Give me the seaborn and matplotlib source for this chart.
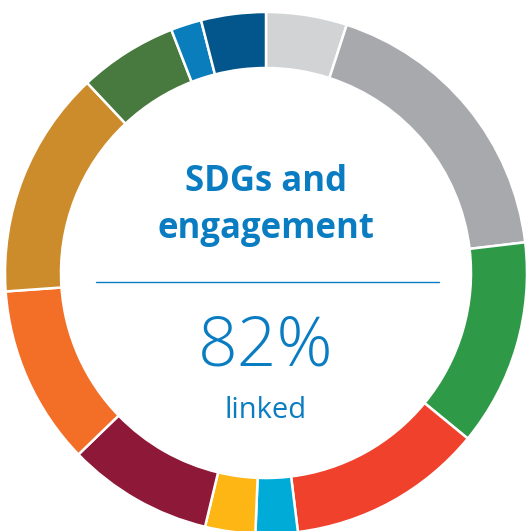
import matplotlib
matplotlib.use("Agg")
import matplotlib.pyplot as plt
import seaborn as sns

# segment shares (% of ring), clockwise from 12 o'clock
segments = ["light gray", "gray", "green", "red", "cyan", "yellow",
            "maroon", "orange", "gold", "dark green", "blue", "dark blue"]
shares = [5.0, 18.1, 12.8, 12.1, 2.6, 3.1, 9.0, 11.1, 14.1, 6.1, 1.9, 4.0]
colors = ["#d1d3d4", "#a7a9ac", "#2e9a48", "#ef412c", "#00acd7", "#fdb614",
          "#8e1838", "#f36e27", "#cd8c2c", "#48793f", "#0a7dbd", "#02568b"]

title_lines = ["SDGs and", "engagement"]
big_value = "82%"
sub_label = "linked"

sns.set_theme(style="white")
plt.rcParams["font.family"] = ["Open Sans", "DejaVu Sans"]

W, H = 526, 531
fig = plt.figure(figsize=(W / 100, H / 100), dpi=100)
ax = fig.add_axes([0, 0, 1, 1])
ax.set_xlim(0, W)
ax.set_ylim(H, 0)
ax.set_aspect("equal")
ax.axis("off")

cx, cy, r_out, ring = 266, 273, 261, 56

# y axis is inverted, so counterclock=True draws clockwise on screen
ax.pie(shares, colors=colors, startangle=-90, counterclock=True,
       center=(cx, cy), radius=r_out, frame=True,
       wedgeprops=dict(width=ring, edgecolor="white", linewidth=1.8))
ax.set_xlim(0, W)
ax.set_ylim(H, 0)
ax.axis("off")

blue = "#0a7cc2"
ax.text(cx, 182, title_lines[0], ha="center", va="center", color=blue,
        fontsize=25, fontweight="bold")
ax.text(cx, 229, title_lines[1], ha="center", va="center", color=blue,
        fontsize=25, fontweight="bold")
ax.plot([96, 439], [282, 282], color=blue, lw=1.0)
ax.text(cx, 347, big_value, ha="center", va="center", color=blue,
        fontsize=50, fontweight="light")
ax.text(cx, 410, sub_label, ha="center", va="center", color=blue,
        fontsize=21)

fig.savefig("out.png", dpi=100)
